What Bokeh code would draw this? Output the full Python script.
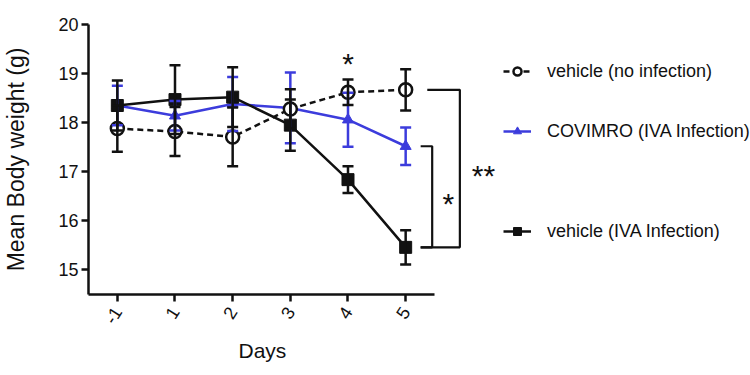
from bokeh.plotting import figure
from bokeh.models import ColumnDataSource, Whisker, TeeHead, FixedTicker, Legend, LegendItem, Title
from bokeh.embed import file_html
from bokeh.resources import INLINE
from bokeh.core.properties import value

# ---- data ----
days = ["-1", "1", "2", "3", "4", "5"]
veh_noinf_mean = [17.88, 17.82, 17.71, 18.28, 18.62, 18.67]
veh_noinf_sem = [0.47, 0.50, 0.60, 0.40, 0.26, 0.42]
covimro_mean = [18.35, 18.14, 18.38, 18.30, 18.06, 17.52]
covimro_sem = [0.40, 0.30, 0.55, 0.72, 0.55, 0.38]
veh_iva_mean = [18.35, 18.47, 18.52, 17.95, 16.84, 15.46]
veh_iva_sem = [0.51, 0.70, 0.61, 0.52, 0.27, 0.35]
series_names = ["vehicle (no infection)", "COVIMRO (IVA Infection)", "vehicle (IVA Infection)"]
y_ticks = [15, 16, 17, 18, 19, 20]
x_title = "Days"
y_title = "Mean Body weight (g)"
sig_day4 = "*"
sig_covimro_vs_iva = "*"
sig_noinf_vs_iva = "**"

FONT = "Liberation Sans"
BLACK = "#111111"
BLUE = "#3c3cdc"

xs = list(range(len(days)))

p = figure(width=750, height=375, output_backend="svg", toolbar_location=None,
           x_range=(-0.5, 10.98), y_range=(14.5, 20),
           min_border_left=88, min_border_right=0, min_border_top=24, min_border_bottom=81)
p.outline_line_color = None
p.xgrid.visible = False
p.ygrid.visible = False
p.background_fill_color = "white"

def src(mean, sem):
    return ColumnDataSource(dict(x=xs, y=mean,
                                 upper=[m + s for m, s in zip(mean, sem)],
                                 lower=[m - s for m, s in zip(mean, sem)]))

def add_whisker(s, color):
    w = Whisker(source=s, base="x", upper="upper", lower="lower",
                line_color=color, line_width=2.5,
                upper_head=TeeHead(size=11, line_color=color, line_width=2.5),
                lower_head=TeeHead(size=11, line_color=color, line_width=2.5))
    w.level = "glyph"
    p.add_layout(w)

s_blue = src(covimro_mean, covimro_sem)
s_noinf = src(veh_noinf_mean, veh_noinf_sem)
s_iva = src(veh_iva_mean, veh_iva_sem)

# COVIMRO
add_whisker(s_blue, BLUE)
l_blue = p.line("x", "y", source=s_blue, line_color=BLUE, line_width=2.5)
m_blue = p.scatter("x", "y", source=s_blue, marker="triangle", size=11,
                   fill_color=BLUE, line_color=BLUE)

# vehicle IVA
add_whisker(s_iva, BLACK)
l_iva = p.line("x", "y", source=s_iva, line_color=BLACK, line_width=2.5)
m_iva = p.scatter("x", "y", source=s_iva, marker="square", size=12,
                  fill_color=BLACK, line_color=BLACK)

# vehicle no infection
add_whisker(s_noinf, BLACK)
l_noinf = p.line("x", "y", source=s_noinf, line_color=BLACK, line_width=2.5, line_dash="6 4")
m_noinf = p.scatter("x", "y", source=s_noinf, marker="circle", size=13,
                    fill_color="white", line_color=BLACK, line_width=2.5)

# ---- significance brackets ----
last = len(days) - 1
yb = veh_iva_mean[last]
p.line([5.26, 5.46, 5.46, 5.26], [covimro_mean[last], covimro_mean[last], yb, yb],
       line_color=BLACK, line_width=2.2)
p.line([5.375, 5.94, 5.94, 5.26], [veh_noinf_mean[last], veh_noinf_mean[last], yb, yb],
       line_color=BLACK, line_width=2.2)
p.text(x=[5.74], y=[(covimro_mean[last] + yb) / 2 - 0.14], text=[sig_covimro_vs_iva],
       text_font=value(FONT), text_font_size="30px", text_align="center",
       text_baseline="middle", text_color=BLACK)
p.text(x=[6.35], y=[(veh_noinf_mean[last] + yb) / 2 - 0.14], text=[sig_noinf_vs_iva],
       text_font=value(FONT), text_font_size="30px", text_align="center",
       text_baseline="middle", text_color=BLACK)
p.text(x=[4], y=[veh_noinf_mean[4] + veh_noinf_sem[4] + 0.33], text=[sig_day4],
       text_font=value(FONT), text_font_size="30px", text_align="center",
       text_baseline="middle", text_color=BLACK)

# ---- axes ----
xa = p.xaxis[0]
xa.ticker = FixedTicker(ticks=xs)
xa.major_label_overrides = {i: d for i, d in zip(xs, days)}
xa.bounds = (-0.5, 5.5)
xa.major_label_orientation = 1.0
ya = p.yaxis[0]
ya.ticker = FixedTicker(ticks=y_ticks)
ya.axis_label = y_title
for ax in (xa, ya):
    ax.axis_line_width = 2.5
    ax.axis_line_color = BLACK
    ax.major_tick_line_width = 2.5
    ax.major_tick_line_color = BLACK
    ax.major_tick_in = 0
    ax.major_tick_out = 7
    ax.minor_tick_line_color = None
    ax.major_label_text_font = FONT
    ax.major_label_text_font_size = "18px"
    ax.major_label_text_color = BLACK
    ax.axis_label_text_font = FONT
    ax.axis_label_text_font_size = "23px"
    ax.axis_label_text_font_style = "normal"
    ax.axis_label_text_color = BLACK
    ax.major_label_standoff = 3
xa.major_label_standoff = 7
ya.axis_label_standoff = 26

# x-axis title, centred under the bounded axis line (which spans 346 px of the frame)
p.add_layout(Title(text=x_title, align="left", offset=150, standoff=10,
                   text_font=FONT, text_font_size="21px", text_font_style="normal",
                   text_color=BLACK), "below")

# ---- legends ----
frame_bottom = 294
legend_rows = [(series_names[0], [l_noinf, m_noinf], 91.7),
               (series_names[1], [l_blue, m_blue], 151.7),
               (series_names[2], [l_iva, m_iva], 251.7)]
for name, rends, yc in legend_rows:
    lg = Legend(items=[LegendItem(label=name, renderers=rends)],
                location=(415, frame_bottom - (yc - 10)),
                padding=0, margin=0, spacing=0,
                glyph_width=28, glyph_height=20, label_height=20,
                label_standoff=16, border_line_alpha=0, background_fill_alpha=0,
                label_text_font=FONT, label_text_font_size="18px",
                label_text_color=BLACK)
    p.add_layout(lg, "center")

open("out.html", "w").write(file_html(p, INLINE))
